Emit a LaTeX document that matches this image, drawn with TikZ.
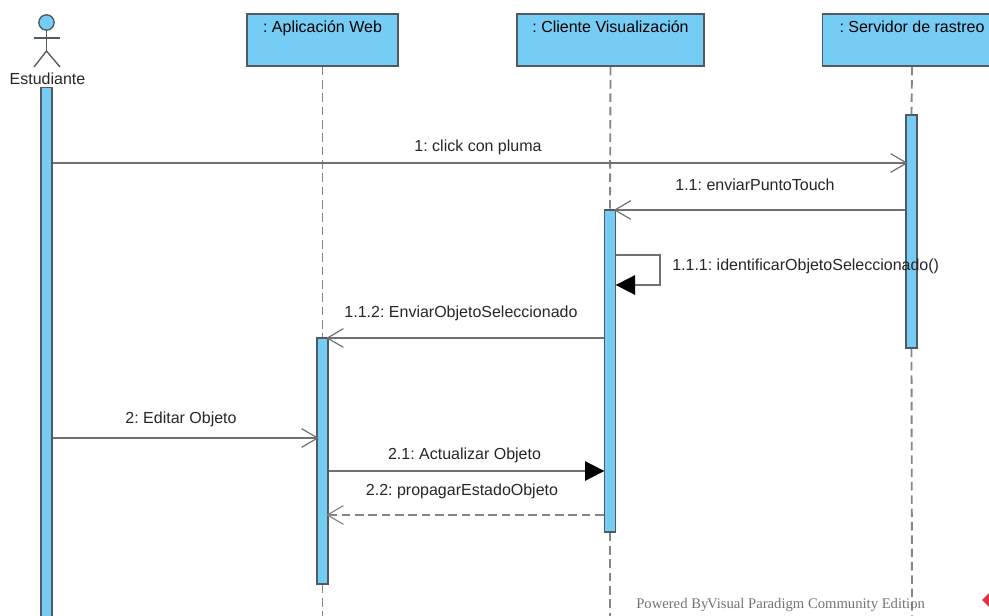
\documentclass[tikz,border=0pt]{standalone}
\usepackage{fontspec}
\setmainfont{Liberation Sans}
\newfontfamily\markfont{Liberation Serif}
\usetikzlibrary{arrows.meta}
\definecolor{lifeblue}{HTML}{75CDF5}
\definecolor{edgegray}{HTML}{505A60}
\definecolor{linegray}{HTML}{707070}
\definecolor{dashgray}{HTML}{858585}
\definecolor{logored}{HTML}{D9363E}
\tikzset{
  headbox/.style={draw=edgegray,fill=lifeblue,line width=1.2pt,minimum height=39pt,inner sep=0pt,text height=14.25pt,text depth=24.75pt,font=\fontsize{12}{14}\selectfont},
  actbar/.style={draw=edgegray,fill=lifeblue,line width=1.2pt,minimum width=8.3pt,inner sep=0pt},
  lifeline/.style={dashgray,line width=1.4pt,dash pattern=on 6.4pt off 3.6pt},
  msg/.style={linegray,line width=1.4pt},
  openhead/.style={-{Straight Barb[length=12pt,width=14pt,line width=0.9pt]},shorten >=-2pt},
  fillhead/.style={-{Triangle[length=14.5pt,width=14.5pt,black]},shorten >=-0.5pt},
  msglabel/.style={inner sep=0pt,text=black!85,font=\fontsize{12}{14}\selectfont},
}
\begin{document}
\frenchspacing
\begin{tikzpicture}[x=0.75pt,y=-0.75pt]
\useasboundingbox (0,0) rectangle (989,616);
\clip (0,0) rectangle (989,616);
% heads
\node[headbox,minimum width=113pt] (headApp) at (322.5,40) {: Aplicación Web};
\node[headbox,minimum width=140pt] (headCli) at (610.5,40) {: Cliente Visualización};
\node[headbox,minimum width=134pt] (headSrv) at (912,40) {: Servidor de rastreo};
% actor
\node[draw=edgegray,fill=lifeblue,circle,line width=1pt,minimum size=11.5pt,inner sep=0pt] (actHead) at (46.5,22.5) {};
\coordinate (actHip) at (46.5,51);
\coordinate (armL) at (34,38);
\coordinate (armR) at (60,38);
\coordinate (legL) at (34,67);
\coordinate (legR) at (60,67);
\draw[edgegray,line width=1pt] (actHead) -- (actHip);
\draw[edgegray,line width=1pt] (armL) -- (armR);
\draw[edgegray,line width=1pt] (legL) -- (actHip) -- (legR);
\node[msglabel] (actName) at (47.5,78.5) {Estudiante};
% bars
\coordinate (endApp) at (322.5,616);
\coordinate (endCli) at (610,616);
\coordinate (endSrv) at (912,616);
\node[actbar,minimum height=414pt] (barEst) at (46.5,363.5) {};
\node[actbar,minimum height=174.5pt] (barSrv) at (911.5,231.5) {};
\node[actbar,minimum height=241.5pt] (barCli) at (610,371) {};
\node[actbar,minimum height=184.5pt] (barApp) at (322.5,461) {};
% lifelines
\draw[lifeline] (headApp.south) -- (barApp.north);
\draw[lifeline] (barApp.south) -- (endApp);
\draw[lifeline] (headCli.south) -- (barCli.north);
\draw[lifeline] (barCli.south) -- (endCli);
\draw[lifeline] (headSrv.south) -- (barSrv.north);
\draw[lifeline] (barSrv.south) -- (endSrv);
% messages
\draw[msg,openhead] (barEst.east |- 0,163) -- (barSrv.west |- 0,163);
\draw[msg,openhead] (barSrv.west |- 0,210) -- (barCli.east |- 0,210);
\draw[msg,fillhead] (barCli.east |- 0,255) -- (660,255) -- (660,285) -- (barCli.east |- 0,285);
\draw[msg,openhead] (barCli.west |- 0,338) -- (barApp.east |- 0,338);
\draw[msg,openhead] (barEst.east |- 0,438) -- (barApp.west |- 0,438);
\draw[msg,fillhead] (barApp.east |- 0,471) -- (barCli.west |- 0,471);
\draw[lifeline,openhead] (barCli.west |- 0,515) -- (barApp.east |- 0,515);
% labels
\node[msglabel] (lblClick) at (478,147.5) {1: click con pluma};
\node[msglabel] (lblPunto) at (755,184.5) {1.1: enviarPuntoTouch};
\node[msglabel,anchor=west] (lblIdent) at (672,266.5) {1.1.1: identificarObjetoSeleccionado()};
\node[msglabel] (lblEnviar) at (461,313.5) {1.1.2: EnviarObjetoSeleccionado};
\node[msglabel] (lblEditar) at (181,419.5) {2: Editar Objeto};
\node[msglabel] (lblActual) at (464.5,455.5) {2.1: Actualizar Objeto};
\node[msglabel] (lblPropag) at (462,491.5) {2.2: propagarEstadoObjeto};
% watermark
\node[anchor=west,inner sep=0pt,text=black!55,font=\markfont\fontsize{11}{13}\selectfont] (lblMark) at (636,605) {Powered By\kern-1pt Visual Paradigm Community Edition};
\fill[logored] (982,600) -- (992,590) -- (1002,600) -- (992,610) -- cycle;
\end{tikzpicture}
\end{document}
